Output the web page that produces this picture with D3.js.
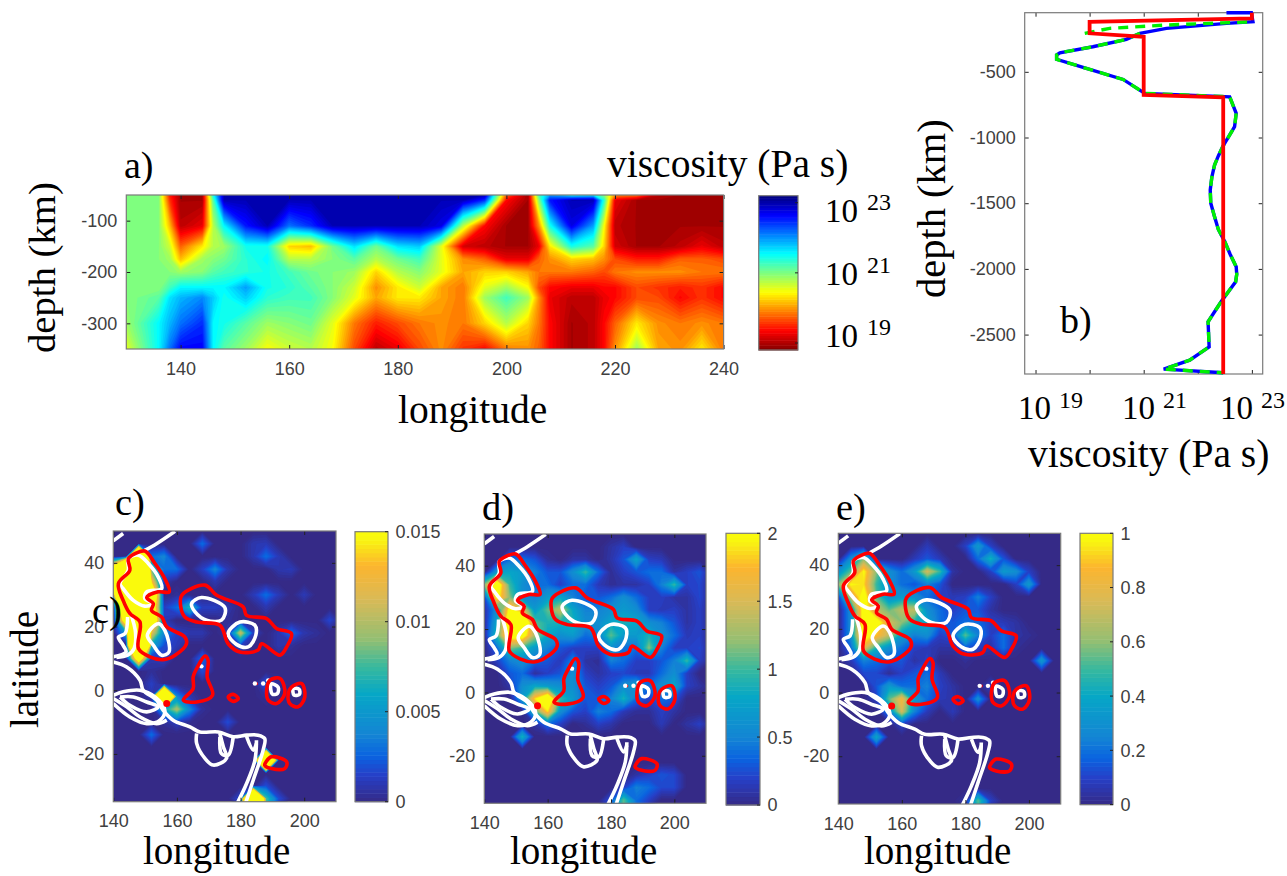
<!DOCTYPE html>
<html><head><meta charset="utf-8">
<script src="https://cdnjs.cloudflare.com/ajax/libs/d3/7.8.5/d3.min.js"></script>
<style>html,body{margin:0;background:#fff}svg{display:block}</style></head><body>
<svg id="c" width="1287" height="876"></svg>
<script>
// ---------- panel a: log10 viscosity, lon x depth ----------
const aLon=[130,136,138,140,144,146,148,152,156,160,164,168,172,176,180,184,188,192,196,200,204,206,208,212,216,218,220,224,228,232,236,240];
const aDepth=[-50,-60,-110,-150,-175,-200,-230,-250,-300,-350];
const aRow50 =[21,21,19.5,19,19,21.5,23,23,23,23,23,23,23,23,23,23,23,23,23,19.8,19,21.3,22,21.5,21.6,21,20,19.9,19.1,19,19,19];
const aRow60 =[21,21,19.6,19,19,21.2,23,23,23,23,23,23,23,23,23,23,23,23,22.5,19.4,19,21,22.6,23,23,21.4,19.3,19,19,19,19,19];
const aRow110=[21,21,20.2,19.1,19.3,20.8,21.6,22.6,23,22.2,22.5,23,23,23,23,23,22.8,20.8,19.4,19,19,20,21.5,22.8,22,20.5,19.1,19,19,19,19,19];
const aRow150=[21,21,20.7,19.8,20.4,20.8,20.9,21.5,21.5,20.3,20.2,21.1,21.7,21.1,21.7,21.8,20.6,19.2,19.1,19,19,19.3,20.4,21.5,21.2,20.3,19.2,19,19,19.1,19.3,19.1];
const aRow175=[21,21,20.9,20.2,20.9,21,21.1,21.4,21.6,20.8,20.8,21,21.2,20.8,21.1,21.3,20.6,20,19.8,19.3,19.3,19.8,20,20.3,20.2,20,19.7,19.5,19.5,19.8,19.8,19.7];
const aRow200=[21,21,21,20.9,21,21.2,21.3,21.4,21.5,21.3,21.1,21,20.9,20.3,20.8,21,20.6,20.1,20.3,20.3,20.1,19.9,19.9,19.9,19.8,19.7,19.9,20,20,20,19.9,19.9];
const aRow230=[21,21,21.3,21.6,21.6,21.6,21.6,22,21.5,21.4,21.2,21,20.7,20,20.4,20.7,20.1,19.9,20.6,20.9,20.5,19.7,19.4,19.3,19.3,19.4,19.4,19.7,19.6,19.5,19.6,19.4];
const aRow250=[21,21.2,21.7,21.9,22.1,21.8,21.5,21.8,21.4,21.3,21.3,21,20.6,20.1,20.4,20.4,20.1,19.9,20.9,21.3,20.9,20,19.3,19.1,19.1,19.3,19.4,19.7,19.7,19.4,19.6,19.4];
const aRow300=[20.9,21.6,21.9,22.2,22.5,21.6,21.5,21.2,20.9,21,21.1,20.6,19.9,19.5,19.7,19.9,20,19.9,20.3,20.8,20.3,19.9,19.4,19,19.1,19.4,19.8,20.4,20,19.9,20,19.9];
const aRow350=[20.6,21.6,22.2,22.7,22.7,21.6,21.2,20.9,20.5,20.7,20.8,20.5,19.7,19.1,19.3,19.7,20,19.6,19.4,19.9,20,19.8,19.4,19,19.1,19.4,20,20.9,20.1,20,20.4,19.9];
const aGrid=[aRow50,aRow60,aRow110,aRow150,aRow175,aRow200,aRow230,aRow250,aRow300,aRow350];
const aLonTicks=[140,160,180,200,220,240], aDepthTicks=[-100,-200,-300];

// ---------- panel b: radial viscosity profiles [log10 viscosity, depth] ----------
const bBlue=[[22.53,-50],[22.99,-50],[23.02,-119],[22.53,-131],[21.42,-169],[20.93,-207],[20.68,-253],[20.06,-309],[19.45,-355],[19.39,-372],[19.39,-405],[19.94,-474],[20.62,-558],[21.02,-664],[22.59,-690],[22.71,-816],[22.68,-918],[22.46,-1070],[22.38,-1140],[22.31,-1210],[22.26,-1300],[22.23,-1400],[22.24,-1500],[22.31,-1603],[22.38,-1700],[22.5,-1794],[22.6,-1890],[22.71,-1984],[22.72,-2040],[22.7,-2098],[22.43,-2250],[22.19,-2403],[22.21,-2593],[21.85,-2695],[21.37,-2763],[22.47,-2791]];
const bGreenTop=[[19.91,-207],[20.37,-169],[21.42,-144],[23.02,-119]];
const bRed=[[23,-50],[23,-93],[20,-119],[20,-207],[21,-233],[21,-675],[22.47,-695],[22.47,-2800]];
const bDepthTicks=[-500,-1000,-1500,-2000,-2500], bVisTicks=[19,20,21,22,23];

// ---------- maps: [lat, first lon, value, value ...] on a 4 degree grid ----------
const mapLonStart=140, mapLonStep=4, mapLatStart=50, mapLatStep=-4, mapCols=19, mapRows=23;
const fieldC=[[46,168,.003,0,0,0,.001,.0012],[42,148,.05,.003,.004,0,0,0,0,0,0,.001,.003,.0012],
[38,140,.02,.06,.06,.008,.003,.003,0,.0015,.004,.001,0,0,0,.001,.0012],[34,140,.03,.08,.08,.014,.001,0,0,0,.001],
[30,140,.006,.08,.08,.025,0,.0005,0,0,0,0,0,.0012,.003,.0012,0,.0012],[26,144,.03,.08,.02,.0015,.003,.007,.0015,.0015,.001,0,0,.001],
[22,144,.02,.08,.025,.0012,0,0,0,0,.0005],[22,208,.0018],[18,144,.005,.08,.012,.004,.0015,.001,.001,0,.0008,.011,.0015,0,.001,.003,.001,.0005],
[14,148,.07,.006,.002,.0012,0,0,0,0,.0015,0,0,.001,.0005],[10,148,.02,.001,.0015,0,0,.003],[6,152,.0005,0,0,0,.002],[2,152,.0015],[2,188,.0025,.0005],
[-2,152,.001,.05,.004,.001],[-2,188,.0005],[-6,156,.006,.01,.004,.0005],[-10,156,.0005,.0015,.0004],[-10,176,.002],[-14,152,.003],[-22,188,.05],[-30,188,.002],
[-34,180,.002,.05,.008,.002],[-38,184,.05,.008]];
const fieldD=[[46,180,.1,.2],[42,148,.4,.4,.3,.06,0,.1,.1,0,.12,.3,.8,.2,.16],[38,144,.7,.8,.7,.5,.3,.3,.6,1,.4,.06,.2,.3,.4,.4,.1,.2,.3],
[34,140,1.2,2.4,1,.6,.4,.4,.2,.4,.4,.16,.06,.1,.1,.2,.5,1,.2,.24],[30,140,.2,2.1,1.2,.6,.5,.7,.8,.5,.3,.3,.4,.6,.4,.2,.2,.1,.1,.24],
[26,140,.1,.6,2.1,1.6,.7,1.1,1.4,.8,.5,.5,.6,.7,.6,.2,.16,.2,.1,.2],[22,140,.06,.8,2.4,3,1.1,.9,.9,.9,.6,.6,.8,.9,.8,.6,.5,.3,.1,.2],
[18,140,.04,1,2.2,2.2,1.3,.8,.6,.7,.4,.5,1.1,.7,.7,.9,.6,.4,.16,.2],[14,144,.4,1.2,1,.7,.5,.3,.2,.2,.2,.6,.4,.4,1.2,.5,.2,.2,.24],
[10,144,.2,.5,.6,.4,.3,.16,.5,.1,.06,.5,.4,.2,.2,.3,.5,1,.2],[6,148,.3,.4,.08,.2,.3,.6,.2,.1,.2,.24,.16,.16,.4,.6,.2],
[2,148,.1,.6,.8,.7,.6,.6,.3,.2,.3,.6,.8,.4,.6,.8,.2,.1],[-2,152,.7,1.9,2.6,1,.7,.3,.3,.5,.9,.4,.2,.4,.3],[-6,156,1,1.9,.6,.3,.2,.5,.4,.16,.06,.06,.2,.1],
[-10,156,.1,.4,.2,0,.06,.2,.12],[-10,196,.16,0,.1,.2],[-14,152,.9],[-26,188,.1,.2,.3,.24],[-30,184,.2,.5,.4,.24,.24],[-34,180,.3,1.1,.4,.2],[-38,180,.3,1.1,.4]];
const fieldE=[[46,168,.08],[46,180,.1,.35,.1],[42,144,.3,.6],[42,164,.08,.15,.08],[42,184,.2,.45,.15],[38,140,.3,.55,1,.6,.3,.2,.35,.75,.5,.05],[38,188,.1,.35,.3,.1],
[34,140,.6,1,.95,.5,.3,.2,.15,.25,.15],[34,196,.1,.35],[30,140,.1,.7,1.1,.55,.3,.35,.3,.2,.1,.08,.1,.25,.1],[26,144,.3,1.1,.7,.55,.7,.7,.3,.2,.1,.15,.15,.05],
[22,144,.3,1.1,1.1,.75,.6,.45,.4,.2,.15,.2,.2,.1,.08,.05],[18,144,.3,1.1,.9,.7,.35,.25,.3,.1,.15,.55,.25,.1,.2,.05,.03],[14,144,.2,.8,.45,.3,.2,.1,.08,.05,.05,.15,.1,.05,.2,.03],
[10,144,.08,.25,.2,.15,.15,.05,.1],[10,180,.03],[10,204,.35],[6,148,.12,.12,.03,.1,.15,.2,.08],[2,152,.15,.35,.2,.2,.25,.1,.05],[2,188,.1],[-2,152,.1,.55,.85,.35,.2,.08,.06],[-2,184,.3],
[-6,156,.25,.75,.25,.08,0,.08],[-10,160,.1],[-14,152,.4],[-34,180,.05,.55,.1],[-38,184,.4]];

// shared outlines, [lon, lat]
const redOutlines=[
[[146.8,42.9],[149.9,43.7],[153.1,39.8],[156.2,35],[157.6,30.9],[154.1,30.9],[150.5,29.1],[152.6,27.2],[152,25.1],[155.2,23],[156.8,19.9],[162.5,16.7],[163,14.6],[159.4,11],[155.7,9.6],[151.5,10.5],[147.9,13.1],[148.4,21.4],[145.2,24.1],[143.1,28.2],[141.6,33.5],[145.2,37.7],[144.7,41.3]],
[[161.5,29.8],[168.8,33],[172.5,29.8],[180.8,26.2],[181.9,23.5],[188.2,22.5],[191.3,19.4],[196,17.8],[194.5,13.6],[192.4,11],[186.6,14.6],[185.5,12.6],[179.8,12],[176.1,14.6],[173.5,20.4],[166.2,21.4],[162.5,23],[161.2,26.2]],
[[168.8,10.7],[169.8,9.4],[169.5,4.2],[171.2,-1.6],[166.2,-3.7],[162,-3.1],[165.1,.5],[165.1,4.2],[166.2,6.8]],
[[176.1,-2.1],[177.7,-1.3],[179.3,-2.6],[177.7,-3.5]],
[[189.2,3.1],[192.4,3.7],[193.9,-1],[191.3,-4.2],[188.7,-3.1],[188.2,0]],
[[196,1],[199.2,2.1],[200.2,-2.1],[198.1,-5.2],[195.5,-4.2],[195,-1]],
[[188,-22.5],[189.7,-20.9],[194.5,-22.5],[193.9,-24.6],[189.7,-24.6],[187.6,-23.5]]];
const whiteOutlines=[
[[144.7,41.3],[147.9,42.4],[151,39.8],[154.1,35.6],[155.2,31.9],[150.5,30.9],[149.9,28.8],[152.6,27.2],[149.9,26.4],[146.3,28.2],[143.1,31.9],[142.1,33.5],[144.7,37.7]],
[[154.1,20.9],[156.2,18.8],[157.5,12],[155.2,11],[152.6,14.1],[150.7,17.3]],
[[164.6,27.2],[167.7,29.1],[175.1,25.9],[174,22],[169.3,22],[165.7,24.6]],
[[179.8,21.4],[184.5,20.4],[184.8,17.3],[182.4,13.6],[178.7,14.4],[176.1,17.8]],
[[189.6,2],[191.8,1],[191.6,-1],[190,-1.2]],
[[196.6,.5],[198.4,.3],[198.5,-1.3],[196.8,-1.5]]];
const whiteCoasts=[
[[140,46.9],[143.1,49.2]],
[[149.9,43.9],[153.6,46],[159.4,49.9]],
[[144.5,23],[143.7,17.8],[141.6,16.7],[143.1,14.1],[144,12],[140,10.5]],
[[145.5,24],[147,18],[146.5,13],[144.5,11],[141,10.3]],
[[140,8.9],[144.2,7.3],[148.4,3.1],[149.4,0],[153.6,-3.1],[155.7,-6.3],[158.8,-9.4],[164.1,-11.5],[167.2,-13.1],[173,-13.1],[177.7,-14.6],[181.9,-14.1],[185.5,-14.1],[187.6,-15.2],[187.1,-18.8],[184,-28.2],[181.4,-36]],
[[185,-15.7],[184.5,-22],[181.9,-29.3],[178.7,-36]],
[[166.2,-13.6],[166.2,-16.7],[168.8,-21.4],[171.4,-23.5],[175.6,-21.4],[174.6,-17.8],[173.5,-13.6]],
[[173.5,-14.6],[174,-19.9],[176.1,-20.4],[177.7,-14.6]],
[[181.9,-14.6],[184,-18.8],[185,-16.7]],
[[140,-1.6],[143.1,-.5],[148.4,0],[153.1,-2.1],[156.2,-6.3],[154.7,-9.4],[150.5,-10.5],[145.2,-8.4],[140,-4.2]],
[[140,-2.6],[144.2,-5.2],[148.4,-8.4],[153.6,-10.5],[156.8,-9.4]],
[[142.1,-2.1],[146.3,-2.1],[150.5,-3.7],[154.1,-5.2],[150.5,-6.8],[145.2,-4.7],[142.1,-2.1]]];
const whiteDots=[[167.7,7.5],[184.5,2.1],[187.1,2.1],[188.7,3.1]];
const redChain=[[184.5,2.1],[187.1,2.1],[188.7,3.1]];
const redDots=[[156.8,-4.2]];
const mapLonTicks=[140,160,180,200], mapLatTicks=[40,20,0,-20];
const cbTicksC=[0,.005,.01,.015], cbLabelsC=["0","0.005","0.01","0.015"];
const cbTicksD=[0,.5,1,1.5,2], cbTicksE=[0,.2,.4,.6,.8,1];

// ---------- helpers ----------
const svg=d3.select("#c");
const SERIF="'Liberation Serif',serif", SANS="'Liberation Sans',sans-serif";
const TICK="#404040", BOX="#7a7a7a";
const clamp=x=>Math.max(0,Math.min(1,x));
const jet=t=>`rgb(${255*clamp(1.5-Math.abs(4*t-3))|0},${255*clamp(1.5-Math.abs(4*t-2))|0},${255*clamp(1.5-Math.abs(4*t-1))|0})`;
const parula=d3.scaleLinear().domain([0,.1,.17,.25,.4,.5,.6,.75,.875,.97,1])
  .range(["#352a87","#2640c8","#0a63e0","#1485d4","#06a7c6","#38b99e","#92bf73","#d9ba56","#fcb52e","#f9f510","#fafc0a"]).clamp(true);
function txt(s,x,y,size,o={}){
  const t=svg.append("text").attr("x",x).attr("y",y).attr("font-family",o.family||SERIF).attr("font-size",size)
   .attr("fill",o.fill||"#000").attr("text-anchor",o.anchor||"start").text(s);
  if(o.rot) t.attr("transform",`rotate(${o.rot} ${x} ${y})`);
  return t;
}
function frame(g,x,y,xTicks,yTicks,w,h,opts={}){
  const fmt=d=>String(d);
  const bx=g.append("g").attr("transform",`translate(0,${h})`).call(d3.axisBottom(x).tickValues(xTicks).tickSizeInner(-4).tickSizeOuter(0).tickPadding(8).tickFormat(opts.noX?"":fmt));
  const lx=g.append("g").call(d3.axisLeft(y).tickValues(yTicks).tickSizeInner(-4).tickSizeOuter(0).tickPadding(9).tickFormat(fmt));
  const tx=g.append("g").call(d3.axisTop(x).tickValues(xTicks).tickSizeInner(-4).tickSizeOuter(0).tickFormat(""));
  const ry=g.append("g").attr("transform",`translate(${w},0)`).call(d3.axisRight(y).tickValues(yTicks).tickSizeInner(-4).tickSizeOuter(0).tickFormat(""));
  [bx,lx,tx,ry].forEach(a=>{a.select(".domain").remove();a.selectAll("line").attr("stroke","#222").attr("stroke-width",1);
    a.selectAll("text").attr("font-family",SANS).attr("font-size",18).attr("fill",TICK);});
  bx.selectAll("text").attr("dy",null).attr("dominant-baseline","hanging").attr("y",13);
  g.append("rect").attr("width",w).attr("height",h).attr("fill","none").attr("stroke",BOX).attr("stroke-width",1.2);
}
function colorbar(x0,y0,w,h,color,domain,ticks,labels,n){
  const g=svg.append("g").attr("transform",`translate(${x0},${y0})`);
  const y=d3.scaleLinear().domain(domain).range([h,0]);
  const steps=d3.range(n).map(i=>domain[0]+(domain[1]-domain[0])*i/n);
  const dv=(domain[1]-domain[0])/n;
  g.selectAll("rect.s").data(steps).join("rect").attr("class","s").attr("x",0).attr("width",w)
   .attr("y",d=>y(d+dv)).attr("height",d=>y(d)-y(d+dv)+.5).attr("fill",d=>color(d+dv/2));
  g.append("rect").attr("width",w).attr("height",h).attr("fill","none").attr("stroke",BOX).attr("stroke-width",1.2);
  if(ticks){
    g.selectAll("line.t").data(ticks).join("line").attr("class","t").attr("x1",w-3).attr("x2",w).attr("y1",y).attr("y2",y).attr("stroke","#222");
    if(labels) g.selectAll("text.l").data(ticks).join("text").attr("class","l").attr("x",w+7.5).attr("y",d=>y(d)).attr("dy","0.36em")
     .attr("font-family",SANS).attr("font-size",18).attr("fill",TICK).text((d,i)=>labels[i]);
  }
}

// ---------- panel a ----------
(function(){
  const L=126.3,T=195,W=597.3,H=154;
  const g=svg.append("g").attr("transform",`translate(${L},${T})`);
  const x=d3.scaleLinear().domain([130,240]).range([0,W]);
  const y=d3.scaleLinear().domain([-50,-350]).range([0,H]);
  const vMax=23.2,vMin=18.8;
  const color=v=>jet((vMax-v)/(vMax-vMin));
  const nx=aLon.length,ny=aDepth.length;
  const ix=d3.scaleLinear().domain(d3.range(nx)).range(aLon).clamp(true);
  const iy=d3.scaleLinear().domain(d3.range(ny)).range(aDepth).clamp(true);
  const values=aGrid.flat();
  const thresholds=d3.range(vMin,vMax,(vMax-vMin)/64);
  const cont=d3.contours().size([nx,ny]).thresholds(thresholds)(values);
  const path=d3.geoPath(d3.geoTransform({point(a,b){this.stream.point(x(ix(a-.5)),y(iy(b-.5)));}}));
  g.append("rect").attr("width",W).attr("height",H).attr("fill",color(19));
  g.selectAll("path").data(cont).join("path").attr("d",path).attr("fill",d=>color(d.value));
  frame(g,x,y,aLonTicks,aDepthTicks,W,H);
  colorbar(758.7,195.7,39.3,154.3,color,[vMin,vMax],[19,21,23],null,64);
})();

// ---------- panel b ----------
(function(){
  const L=1024.7,T=12.7,W=238,H=361.3;
  const g=svg.append("g").attr("transform",`translate(${L},${T})`);
  const x=d3.scaleLinear().domain([18.8,23.2]).range([0,W]);
  const y=d3.scaleLinear().domain([-50,-2800]).range([0,H]);
  const line=d3.line().x(d=>x(d[0])).y(d=>y(d[1]));
  frame(g,x,y,bVisTicks,bDepthTicks,W,H,{noX:true});
  g.append("path").attr("d",line(bBlue)).attr("fill","none").attr("stroke","#0000ff").attr("stroke-width",3.4);
  const dash="10 7";
  g.append("path").attr("d",line(bGreenTop)).attr("fill","none").attr("stroke","#00f000").attr("stroke-width",3.4).attr("stroke-dasharray",dash);
  g.append("path").attr("d",line(bBlue.slice(5))).attr("fill","none").attr("stroke","#00f000").attr("stroke-width",3.4).attr("stroke-dasharray",dash);
  g.append("path").attr("d",line(bRed)).attr("fill","none").attr("stroke","#ff0000").attr("stroke-width",3.8);
})();

// ---------- panels c, d, e ----------
function fieldToGrid(rows){
  const g=new Array(mapCols*mapRows).fill(0);
  rows.forEach(r=>{
    const j=Math.round((r[0]-mapLatStart)/mapLatStep);
    const i0=Math.round((r[1]-mapLonStart)/mapLonStep);
    r.slice(2).forEach((v,k)=>{ if(i0+k<mapCols) g[j*mapCols+i0+k]=v; });
  });
  return g;
}
function mapPanel(id,L,T,W,H,rows,vmax){
  const g=svg.append("g").attr("transform",`translate(${L},${T})`);
  const x=d3.scaleLinear().domain([140,210]).range([0,W]);
  const y=d3.scaleLinear().domain([50,-35]).range([0,H]);
  svg.append("clipPath").attr("id",id).append("rect").attr("width",W).attr("height",H);
  const color=v=>parula(v/vmax);
  const plot=g.append("g").attr("clip-path",`url(#${id})`);
  plot.append("rect").attr("width",W).attr("height",H).attr("fill",color(0));
  const th=d3.range(1,65).map(i=>vmax*(i-.5)/64);
  const cont=d3.contours().size([mapCols,mapRows]).thresholds(th)(fieldToGrid(rows));
  const path=d3.geoPath(d3.geoTransform({point(a,b){this.stream.point(x(mapLonStart+mapLonStep*(a-.5)),y(mapLatStart+mapLatStep*(b-.5)));}}));
  plot.selectAll("path.f").data(cont).join("path").attr("class","f").attr("d",path).attr("fill",d=>color(d.value));
  const open=d3.line().x(d=>x(d[0])).y(d=>y(d[1])).curve(d3.curveCatmullRom.alpha(.5));
  const closed=d3.line().x(d=>x(d[0])).y(d=>y(d[1])).curve(d3.curveCatmullRomClosed.alpha(.5));
  plot.selectAll("path.wc").data(whiteCoasts).join("path").attr("class","wc").attr("d",open).attr("fill","none").attr("stroke","#fff").attr("stroke-width",3.6);
  plot.selectAll("path.wo").data(whiteOutlines).join("path").attr("class","wo").attr("d",closed).attr("fill","none").attr("stroke","#fff").attr("stroke-width",3.6);
  plot.append("path").attr("d",open(redChain)).attr("fill","none").attr("stroke","#f00").attr("stroke-width",2.5).attr("stroke-dasharray","3 4");
  plot.selectAll("circle.wd").data(whiteDots).join("circle").attr("class","wd").attr("cx",d=>x(d[0])).attr("cy",d=>y(d[1])).attr("r",2.2).attr("fill","#fff");
  plot.selectAll("path.ro").data(redOutlines).join("path").attr("class","ro").attr("d",closed).attr("fill","none").attr("stroke","#f00").attr("stroke-width",3.6);
  plot.selectAll("circle.rd").data(redDots).join("circle").attr("class","rd").attr("cx",d=>x(d[0])).attr("cy",d=>y(d[1])).attr("r",3.5).attr("fill","#f00");
  frame(g,x,y,mapLonTicks,mapLatTicks,W,H);
  return color;
}
const colC=mapPanel("pc",113.3,531,222.7,270.7,fieldC,.015);
const colD=mapPanel("pd",484.3,534,221.7,269.3,fieldD,2);
const colE=mapPanel("pe",838.3,533.3,222.4,270.7,fieldE,1);
colorbar(355,531.7,33,270,colC,[0,.015],cbTicksC,cbLabelsC,64);
colorbar(726,533.3,34,271.7,colD,[0,2],cbTicksD,cbTicksD.map(String),64);
colorbar(1080,533.3,33,271.3,colE,[0,1],cbTicksE,cbTicksE.map(String),64);

// ---------- text ----------
txt("a)",124,178,38);
txt("b)",1060,333,38);
txt("c)",115,515,38.5);
txt("c)",92,623,38.5);
txt("d)",482,520,38.5);
txt("e)",836,520,38.5);
txt("viscosity (Pa s)",607,177,39.5);
txt("viscosity (Pa s)",1028,467,39.5);
txt("longitude",398,423,39.5);
txt("longitude",143,864,39);
txt("longitude",510,864,39);
txt("longitude",864,864,39);
txt("depth (km)",55,353,38.7,{rot:-90});
txt("depth (km)",945,298,40.5,{rot:-90});
txt("latitude",38,728,39,{rot:-90});
// exponent-style colour-scale labels
[[825,222,"23"],[825,285,"21"],[825,347,"19"]].forEach(d=>{txt("10",d[0],d[1],33);txt(d[2],d[0]+42,d[1]-12,24);});
[[1018,419,"19"],[1122,419,"21"],[1220,419,"23"]].forEach(d=>{txt("10",d[0],d[1],33);txt(d[2],d[0]+41,d[1]-11,24);});
</script>
</body></html>
